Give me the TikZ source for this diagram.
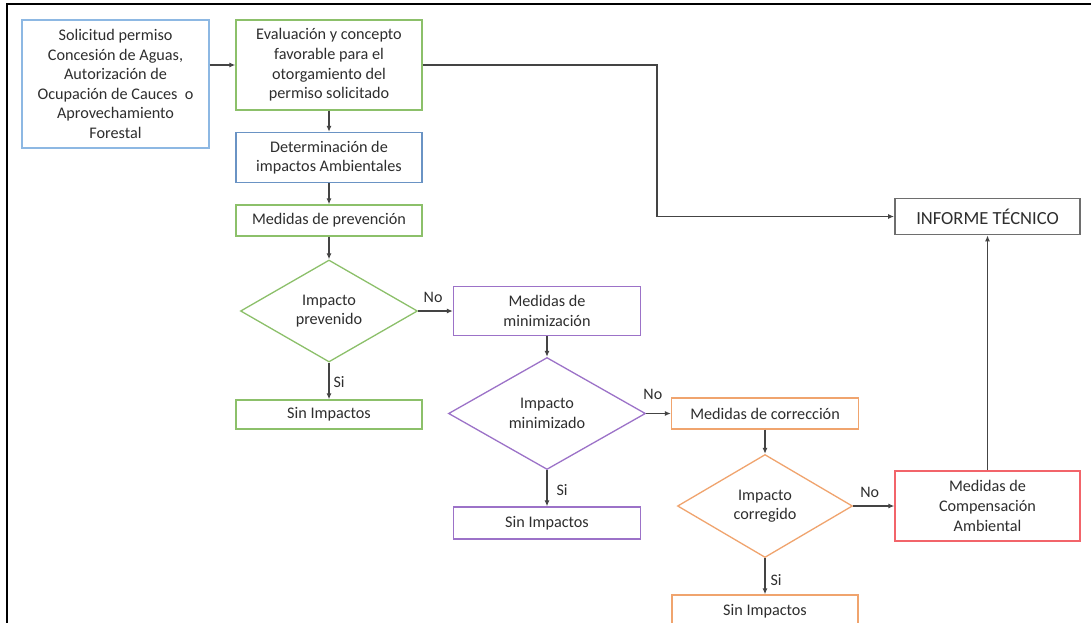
\documentclass[tikz,border=0pt]{standalone}
\usepackage{fontspec}
\setmainfont{Carlito}
\usetikzlibrary{shapes.geometric,arrows.meta}
\definecolor{clblue}{HTML}{8DB8E3}
\definecolor{cblue}{HTML}{6A93C4}
\definecolor{cgreen}{HTML}{8CC06A}
\definecolor{cpurple}{HTML}{9C72C8}
\definecolor{corange}{HTML}{F0A46E}
\definecolor{cred}{HTML}{F2646A}
\definecolor{cgray}{HTML}{6E6E6E}
\definecolor{ctxt}{HTML}{2E2E2E}
\definecolor{cline}{HTML}{444444}
\tikzset{
  stepbox/.style={draw, line width=1.3pt, fill=white, inner sep=0pt, align=center,
    text=ctxt, font=\fontsize{16.2}{19.6}\selectfont},
  decbox/.style={stepbox, shape=diamond},
  conn/.style={draw=cline, line width=1.2pt, -{Latex[length=6pt,width=5pt]}},
  lbl/.style={inner sep=0pt, text=ctxt, font=\fontsize{16}{18}\selectfont},
}
\begin{document}
\begin{tikzpicture}[x=1pt,y=-1pt]
\useasboundingbox (0,0) rectangle (1091,623);
\clip (0,0) rectangle (1091,623);
\fill[white] (0,0) rectangle (1091,623);
% frame
\draw[line width=2.3pt, black] (7,623) -- (7,3.8) -- (1091,3.8);

\node[stepbox, draw=clblue, minimum width=187pt, minimum height=128pt] (sol) at (115.5,84)
  {Solicitud permiso\\Concesión de Aguas,\\Autorización de\\Ocupación de Cauces\ \ o\\Aprovechamiento\\Forestal};
\node[stepbox, draw=cgreen, minimum width=186pt, minimum height=90pt] (eva) at (329,65)
  {Evaluación y concepto\\favorable para el\\otorgamiento del\\permiso solicitado};
\node[stepbox, draw=cblue, minimum width=186pt, minimum height=50pt] (det) at (329,157.5)
  {Determinación de\\impactos Ambientales};
\node[stepbox, draw=cgreen, minimum width=186pt, minimum height=31pt] (prev) at (329,220.5)
  {Medidas de prevención};
\node[decbox, draw=cgreen, minimum width=177pt, minimum height=102pt] (d1) at (329,311)
  {Impacto\\prevenido};
\node[stepbox, draw=cpurple, minimum width=187pt, minimum height=49pt] (min) at (547,311)
  {Medidas de\\minimización};
\node[stepbox, draw=cgreen, minimum width=186pt, minimum height=29pt] (sin1) at (329,414.5)
  {Sin Impactos};
\node[decbox, draw=cpurple, minimum width=197pt, minimum height=112pt] (d2) at (547,413.5)
  {Impacto\\minimizado};
\node[stepbox, draw=corange, minimum width=187pt, minimum height=31pt] (cor) at (765,413.5)
  {Medidas de corrección};
\node[stepbox, draw=cpurple, minimum width=187pt, minimum height=32pt] (sin2) at (547,523)
  {Sin Impactos};
\node[decbox, draw=corange, minimum width=175pt, minimum height=103pt] (d3) at (765,506)
  {Impacto\\corregido};
\node[stepbox, draw=corange, minimum width=186pt, minimum height=32pt] (sin3) at (765,611)
  {Sin Impactos};
\node[stepbox, draw=cred, minimum width=185pt, minimum height=70pt] (comp) at (987.5,506)
  {Medidas de\\Compensación\\Ambiental};
\node[stepbox, draw=cgray, line width=1.8pt, minimum width=185pt, minimum height=36pt,
  font=\fontsize{18.5}{21}\selectfont] (inf) at (987.5,216.5) {INFORME TÉCNICO};

\coordinate (bend) at (657,216.5);

\draw[conn] (sol.east |- eva.west) -- (eva.west);
\draw[conn] (eva) -- (det);
\draw[conn] (det) -- (prev);
\draw[conn] (prev) -- (d1);
\draw[conn] (d1) -- node[lbl, pos=0.43, above=8pt] {No} (min);
\draw[conn] (d1) -- node[lbl, pos=0.53, anchor=west, xshift=4pt] {Si} (sin1);
\draw[conn] (min) -- (d2);
\draw[conn] (d2) -- node[lbl, pos=0.27, above=13pt] {No} (cor);
\draw[conn] (d2) -- node[lbl, pos=0.55, anchor=west, xshift=9pt] {Si} (sin2);
\draw[conn] (cor) -- (d3);
\draw[conn] (d3) -- node[lbl, pos=0.4, above=8pt] {No} (comp);
\draw[conn] (d3) -- node[lbl, pos=0.6, anchor=west, xshift=5pt] {Si} (sin3);
\draw[conn] (comp) -- (inf);
\draw[conn] (eva.east) -| (bend) -- (inf.west);
\end{tikzpicture}
\end{document}
